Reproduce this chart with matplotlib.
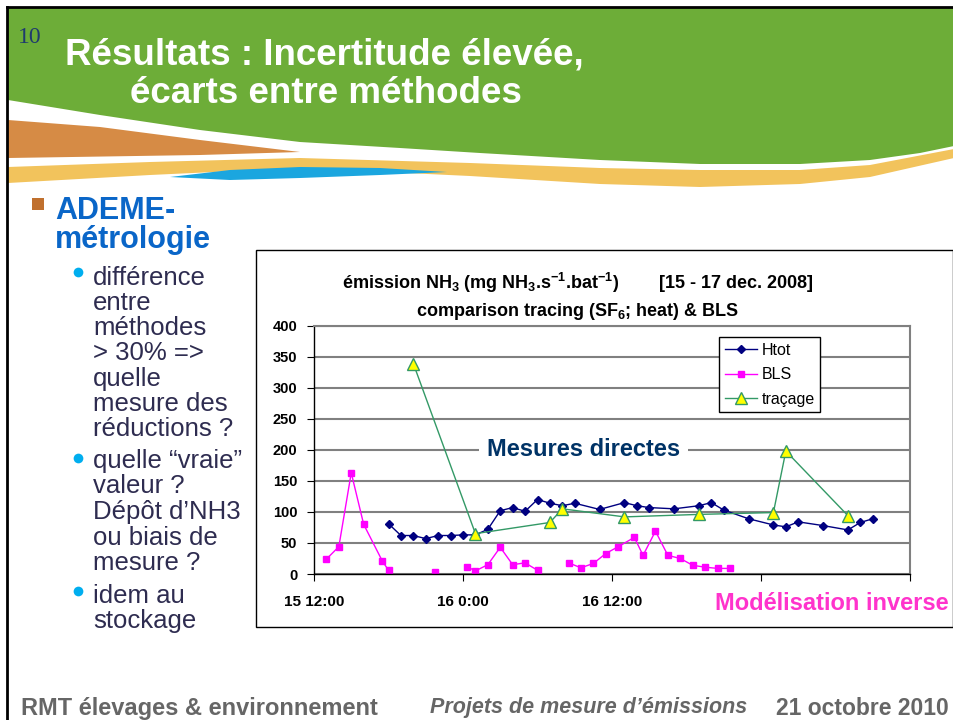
import numpy as np
import matplotlib
matplotlib.use('Agg')
import matplotlib.pyplot as plt
from matplotlib.patches import Rectangle

plt.rcParams['font.family'] = ['Liberation Sans', 'DejaVu Sans']
plt.rcParams['mathtext.fontset'] = 'custom'
plt.rcParams['mathtext.bf'] = 'Liberation Sans:bold'
plt.rcParams['mathtext.rm'] = 'Liberation Sans'

# hours after 15 dec 12:00
htot_h = [6, 7, 8, 9, 10, 11, 12, 13, 14, 15, 16, 17, 18, 19, 20, 21, 23, 25, 26, 27,
          29, 31, 32, 33, 35, 37, 38, 39, 41, 43, 44, 45]
htot_v = [81, 62, 62, 57, 62, 62, 63, 63, 72, 102, 107, 101, 120, 114, 110, 114, 104, 115, 110, 107,
          105, 110, 115, 103, 89, 79, 76, 84, 78, 71, 83, 89]

bls_h = [1, 2, 3, 4, 5.5, 6, np.nan, 9.75, np.nan, 12.3, 13, 14, 15, 16, 17, 18, np.nan,
         20.5, 21.5, 22.5, 23.5, 24.5, 25.8, 26.5, 27.5, 28.5, 29.5, 30.5, 31.5, 32.5, 33.5]
bls_v = [24, 44, 163, 80, 21, 6, np.nan, 4, np.nan, 12, 5, 15, 43, 15, 18, 6, np.nan,
         18, 10, 17, 33, 44, 59, 30, 69, 30, 25, 14, 11, 9, 9]

trac_h = [8, 13, 19, 20, 25, 31, 37, 38, 43]
trac_v = [339, 65, 83, 105, 92, 96, 99, 198, 94]

xticks = [0, 12, 24, 36, 48]
xlabels = ['15 12:00', '16 0:00', '16 12:00', '', '']
yticks = list(range(0, 401, 50))

W, H = 954, 720
fig = plt.figure(figsize=(W / 100, H / 100), dpi=100)
fig.patch.set_facecolor('white')

# ---- slide background ----
bg = fig.add_axes([0, 0, 1, 1])
bg.set_xlim(0, W)
bg.set_ylim(H, 0)
bg.axis('off')

green_x = [8, 954, 954, 920, 870, 800, 700, 600, 480, 400, 300, 200, 100, 8]
green_y = [8, 8, 146, 153, 160, 164, 164, 160, 153, 148, 142, 130, 115, 100]
bg.fill(green_x, green_y, color='#6DAD38', lw=0)

brown_x = [8, 100, 200, 300, 200, 8]
brown_y = [120, 127, 140, 152, 155, 158]
bg.fill(brown_x, brown_y, color='#D68B45', lw=0)

orange_x = [8, 150, 300, 470, 600, 700, 800, 870, 954, 954, 870, 800, 700, 600, 470, 300, 150, 8]
orange_y = [167, 162, 158, 163, 168, 170, 170, 165, 149, 158, 177, 184, 187, 184, 176, 168, 175, 183]
bg.fill(orange_x, orange_y, color='#F2C35C', lw=0)

blue_x = [170, 230, 300, 380, 447, 380, 300, 230]
blue_y = [177, 170, 167, 168, 172, 175, 178, 180]
bg.fill(blue_x, blue_y, color='#1BA6DF', lw=0)

bg.plot([7, 954], [7, 7], color='black', lw=2)
bg.plot([7, 7], [7, 720], color='black', lw=2)

bg.text(18, 43, '10', fontsize=17, family='Liberation Serif', color='#1F3A6E', va='baseline')
bg.text(65, 65, 'Résultats : Incertitude élevée,', fontsize=26.5, fontweight='bold',
        color='white', va='baseline')
bg.text(130, 103, 'écarts entre méthodes', fontsize=26.5, fontweight='bold',
        color='white', va='baseline')

# left bullet text
bg.add_patch(Rectangle((32, 198), 12, 12, color='#C0702E', lw=0))
bg.text(55, 248, 'ADEME-\nmétrologie', fontsize=22, fontweight='bold', color='#0A66C8',
        va='baseline', linespacing=0.95)

lines = [('différence', 285), ('entre', 310), ('méthodes', 335), ('> 30% =>', 360),
         ('quelle', 386), ('mesure des', 411), ('réductions ?', 436),
         ('quelle “vraie”', 468), ('valeur ?', 493), ('Dépôt d’NH3', 519),
         ('ou biais de', 545), ('mesure ?', 570), ('idem au', 603), ('stockage', 628)]
for txt, yb in lines:
    bg.text(93, yb, txt, fontsize=18.5, color='#2E2C50', va='baseline')
for yb in [272, 458, 591]:
    bg.plot(78, yb, 'o', ms=7, color='#00AEEF', mec='none')

# footer
bg.text(21, 715, 'RMT élevages & environnement', fontsize=17, fontweight='bold',
        color='#666666', va='baseline')
bg.text(430, 713, 'Projets de mesure d’émissions', fontsize=15.5, fontweight='bold',
        style='italic', color='#666666', va='baseline')
bg.text(949, 715, '21 octobre 2010', fontsize=16.5, fontweight='bold',
        color='#666666', va='baseline', ha='right')

# chart frame
bg.add_patch(Rectangle((256, 250), 697, 377, facecolor='white', edgecolor='black', lw=1))
bg.text(578, 283, r'émission NH$_\mathbf{3}$ (mg NH$_\mathbf{3}$.s$^\mathbf{-1}$.bat$^\mathbf{-1}$)'
        '        [15 - 17 dec. 2008]', fontsize=13, fontweight='bold', ha='center', va='center')
bg.text(578, 311, r'comparison tracing (SF$_\mathbf{6}$; heat) & BLS', fontsize=13,
        fontweight='bold', ha='center', va='center')
bg.text(832, 603, 'Modélisation inverse', fontsize=17, fontweight='bold', color='#FF33CC',
        ha='center', va='center')

# ---- chart ----
ax = fig.add_axes([314 / W, (H - 574) / H, (910 - 314) / W, (574 - 325.7) / H])
ax.set_facecolor('white')
ax.set_xlim(0, 48)
ax.set_ylim(0, 400)
ax.set_yticks(yticks)
ax.set_xticks(xticks)
ax.set_xticklabels(xlabels)
ax.grid(axis='y', color='#808080', lw=1.5)
ax.set_axisbelow(True)
for s in ['top', 'right']:
    ax.spines[s].set_color('#808080')
    ax.spines[s].set_linewidth(1.5)
for s in ['left', 'bottom']:
    ax.spines[s].set_color('black')
    ax.spines[s].set_linewidth(1)
ax.tick_params(axis='x', direction='out', length=5, pad=10, labelsize=11)
ax.tick_params(axis='y', direction='out', length=5, pad=7, labelsize=10.5)
for lab in ax.get_xticklabels() + ax.get_yticklabels():
    lab.set_fontweight('bold')

ax.plot(htot_h, htot_v, color='#000080', marker='D', ms=4, lw=1, label='Htot')
ax.plot(bls_h, bls_v, color='#FF00FF', marker='s', ms=5, lw=1, label='BLS')
ax.plot(trac_h, trac_v, color='#339966', marker='^', ms=9, mfc='#FFFF00', mec='#339966',
        lw=1, label='traçage')

ax.text(21.7, 200, 'Mesures directes', fontsize=17, fontweight='bold', color='#003366',
        ha='center', va='center',
        bbox=dict(facecolor='white', edgecolor='none', pad=6))

leg = ax.legend(loc='upper left', bbox_to_anchor=(719 / W, 1 - 337 / H),
                bbox_transform=fig.transFigure, fancybox=False, framealpha=1,
                edgecolor='black', fontsize=11.5, handlelength=2.0, borderpad=0.35,
                labelspacing=0.6, handletextpad=0.3, borderaxespad=0)
leg.get_frame().set_linewidth(1)

fig.savefig('out.png', dpi=100)
